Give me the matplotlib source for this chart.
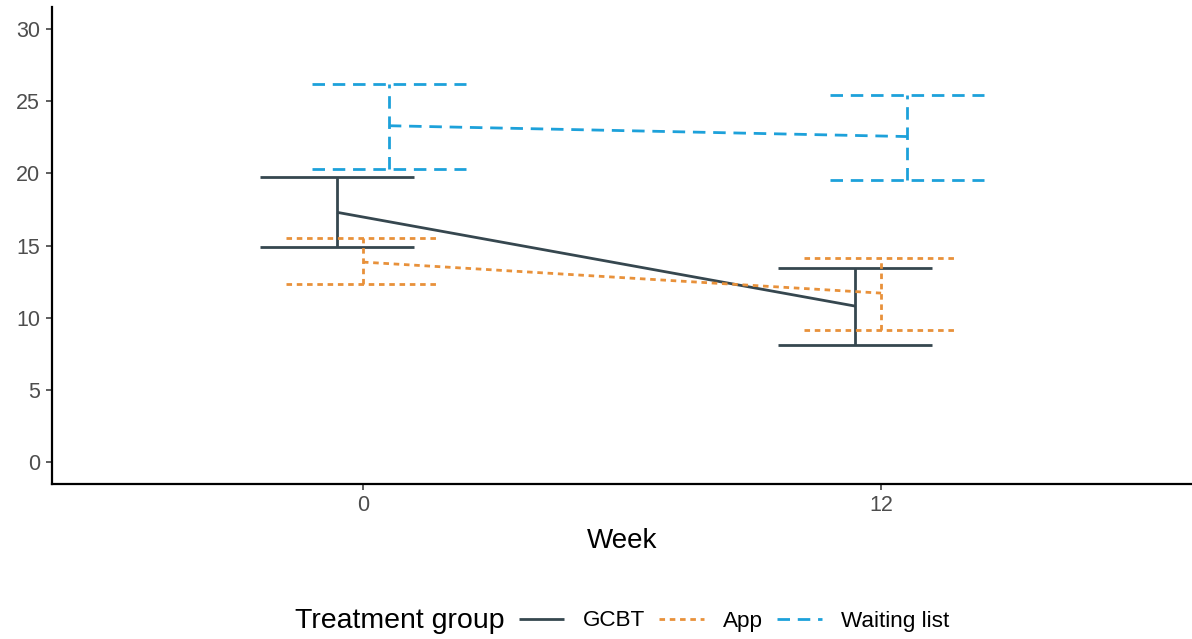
import numpy as np
import matplotlib.pyplot as plt

plt.rcParams['font.family'] = ['Liberation Sans', 'DejaVu Sans']

weeks = ['0', '12']
groups = ['GCBT', 'App', 'Waiting list']
means = {
    'GCBT': [17.3, 10.8],
    'App': [13.85, 11.7],
    'Waiting list': [23.3, 22.55],
}
lower = {
    'GCBT': [14.9, 8.1],
    'App': [12.3, 9.15],
    'Waiting list': [20.3, 19.55],
}
upper = {
    'GCBT': [19.75, 13.45],
    'App': [15.5, 14.1],
    'Waiting list': [26.2, 25.45],
}

colors = {'GCBT': '#36474F', 'App': '#E8913A', 'Waiting list': '#1DA1DA'}
dashes = {'GCBT': None, 'App': (2.0, 1.7), 'Waiting list': (4.5, 2.8)}
offsets = {'GCBT': -0.05, 'App': 0.0, 'Waiting list': 0.05}
cap_half = 0.148
lw = 2.0

fig = plt.figure(figsize=(11.92, 6.39), dpi=100)
ax = fig.add_axes([52 / 1192, 1 - 483.6 / 639, 1 - 52 / 1192, (483.6 - 7.4) / 639])

x_base = np.arange(1, len(weeks) + 1)
handles = []
for g in groups:
    x = x_base + offsets[g]
    kw = dict(color=colors[g], linewidth=lw, solid_capstyle='butt', dash_capstyle='butt')
    line, = ax.plot(x, means[g], **kw)
    if dashes[g] is not None:
        line.set_dashes(dashes[g])
    handles.append(line)
    for xi, lo, hi in zip(x, lower[g], upper[g]):
        segs = [([xi, xi], [lo, hi]),
                ([xi - cap_half, xi + cap_half], [lo, lo]),
                ([xi - cap_half, xi + cap_half], [hi, hi])]
        for sx, sy in segs:
            l, = ax.plot(sx, sy, **kw)
            if dashes[g] is not None:
                l.set_dashes(dashes[g])

ax.set_xlim(0.4, 2.6)
ax.set_ylim(-1.5, 31.5)
ax.set_xticks(x_base)
ax.set_xticklabels(weeks)
ax.set_yticks([0, 5, 10, 15, 20, 25, 30])
for s in ['top', 'right']:
    ax.spines[s].set_visible(False)
for s in ['left', 'bottom']:
    ax.spines[s].set_linewidth(1.6)
    ax.spines[s].set_color('black')
ax.tick_params(axis='both', length=4.5, width=1.1, color='#333333',
               labelsize=15.5, labelcolor='#4D4D4D', pad=4)
ax.set_xlabel('Week', fontsize=20, color='black', labelpad=8)

fig.text(295 / 1192, 1 - 621 / 639, 'Treatment group', fontsize=20.5,
         ha='left', va='center')
fig.legend(handles, groups, loc='center left', bbox_to_anchor=(519 / 1192, 1 - 621 / 639),
           ncol=3, frameon=False, fontsize=16.2, handlelength=2.0,
           handletextpad=0.85, columnspacing=0.6, borderpad=0, borderaxespad=0)

fig.savefig('out.png', dpi=100)
